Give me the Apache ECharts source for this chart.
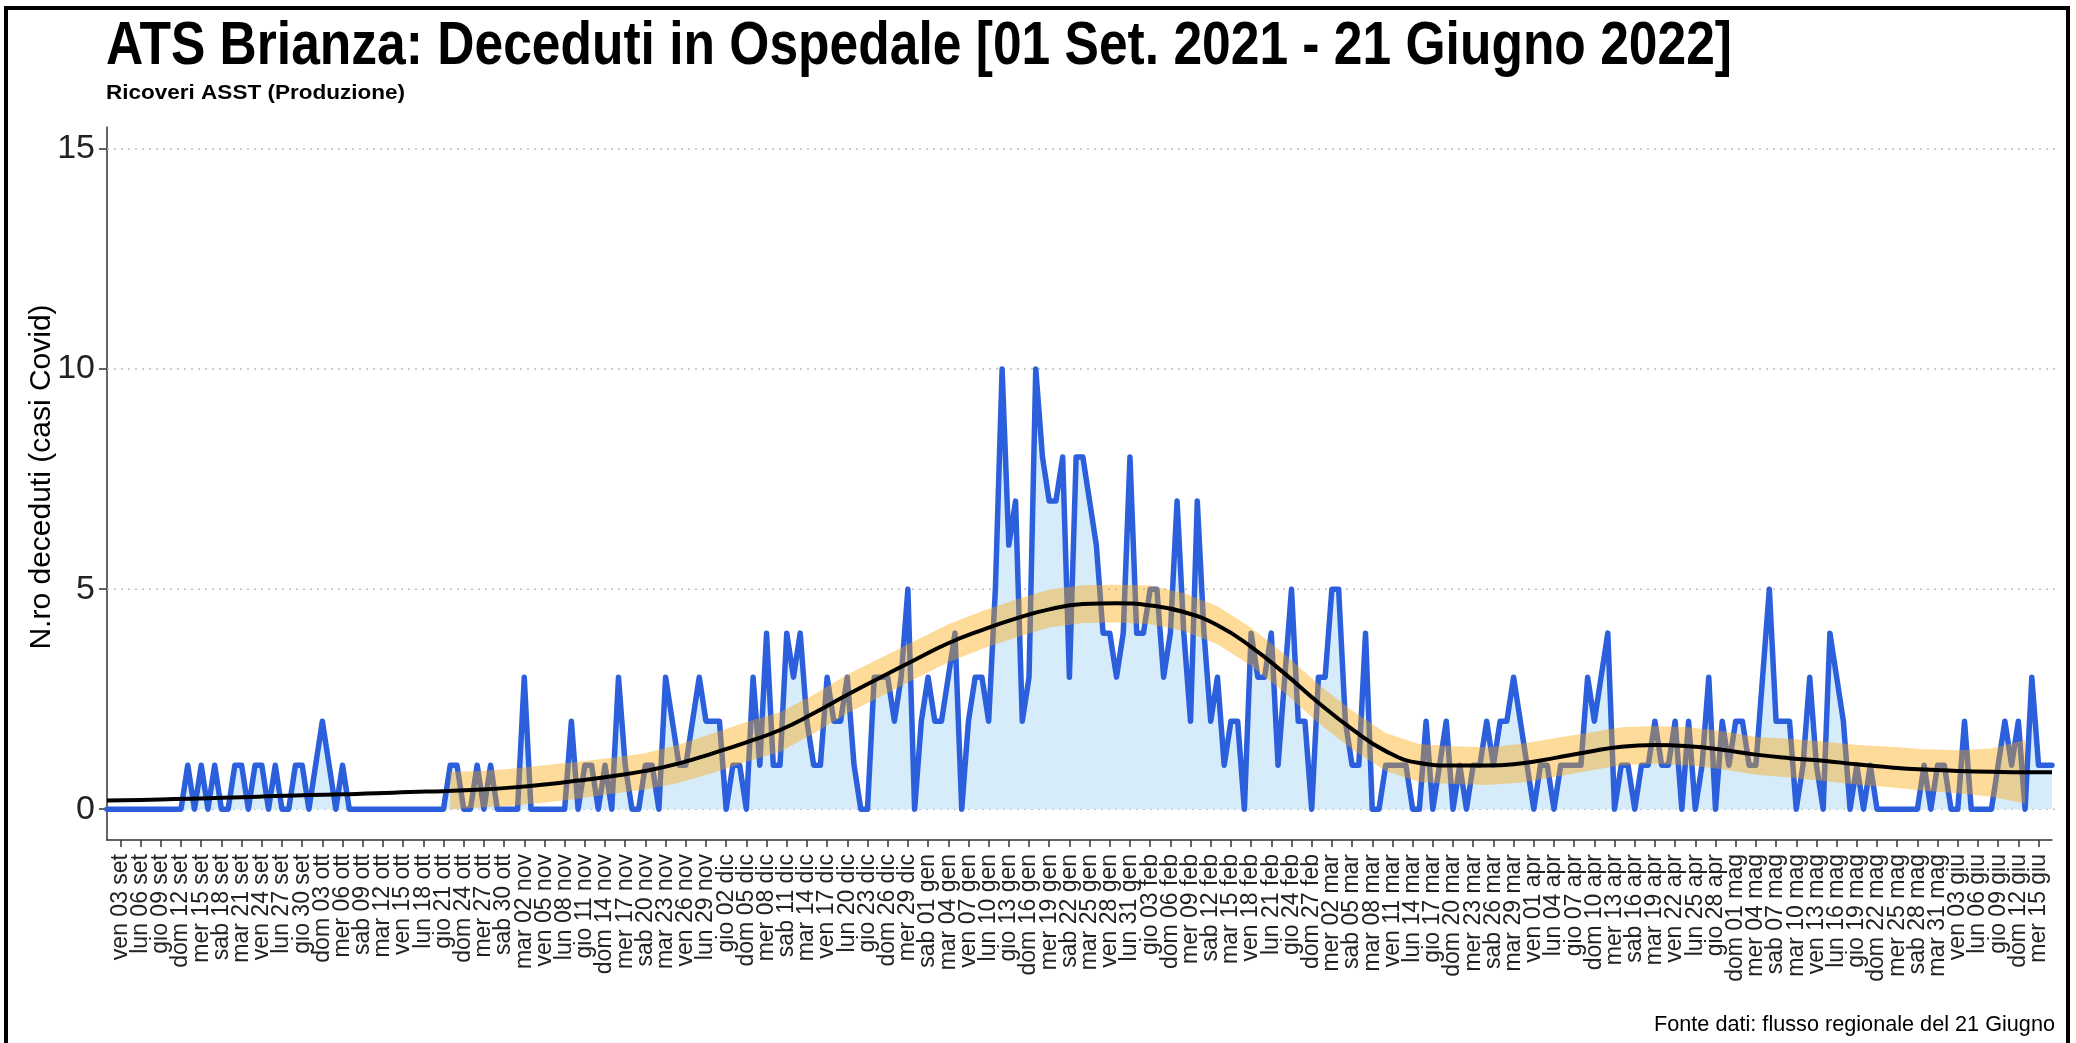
<!DOCTYPE html>
<html>
<head>
<meta charset="utf-8">
<script src="https://cdn.jsdelivr.net/npm/echarts@6/dist/echarts.min.js"></script>
<style>
html, body { margin: 0; padding: 0; background: #fff; }
#chart { width: 2076px; height: 1043px; }
</style>
</head>
<body>
<div id="chart"></div>
<script>
// daily deaths, 01 Sep 2021 .. 17 Jun 2022 (one value per day)
const firstDay = [2021, 8, 1];
const weekdayNames = ["dom", "lun", "mar", "mer", "gio", "ven", "sab"];
const monthNames = ["gen", "feb", "mar", "apr", "mag", "giu", "lug", "ago", "set", "ott", "nov", "dic"];

const deceduti = [
    0, 0, 0, 0, 0, 0, 0, 0, 0, 0,
    0, 0, 1, 0, 1, 0, 1, 0, 0, 1,
    1, 0, 1, 1, 0, 1, 0, 0, 1, 1,
    0, 1, 2, 1, 0, 1, 0, 0, 0, 0,
    0, 0, 0, 0, 0, 0, 0, 0, 0, 0,
    0, 1, 1, 0, 0, 1, 0, 1, 0, 0,
    0, 0, 3, 0, 0, 0, 0, 0, 0, 2,
    0, 1, 1, 0, 1, 0, 3, 1, 0, 0,
    1, 1, 0, 3, 2, 1, 1, 2, 3, 2,
    2, 2, 0, 1, 1, 0, 3, 1, 4, 1,
    1, 4, 3, 4, 2, 1, 1, 3, 2, 2,
    3, 1, 0, 0, 3, 3, 3, 2, 3, 5,
    0, 2, 3, 2, 2, 3, 4, 0, 2, 3,
    3, 2, 5, 10, 6, 7, 2, 3, 10, 8,
    7, 7, 8, 3, 8, 8, 7, 6, 4, 4,
    3, 4, 8, 4, 4, 5, 5, 3, 4, 7,
    4, 2, 7, 4, 2, 3, 1, 2, 2, 0,
    4, 3, 3, 4, 1, 3, 5, 2, 2, 0,
    3, 3, 5, 5, 2, 1, 1, 4, 0, 0,
    1, 1, 1, 1, 0, 0, 2, 0, 1, 2,
    0, 1, 0, 1, 1, 2, 1, 2, 2, 3,
    2, 1, 0, 1, 1, 0, 1, 1, 1, 1,
    3, 2, 3, 4, 0, 1, 1, 0, 1, 1,
    2, 1, 1, 2, 0, 2, 0, 1, 3, 0,
    2, 1, 2, 2, 1, 1, 3, 5, 2, 2,
    2, 0, 1, 3, 1, 0, 4, 3, 2, 0,
    1, 0, 1, 0, 0, 0, 0, 0, 0, 0,
    1, 0, 1, 1, 0, 0, 2, 0, 0, 0,
    0, 1, 2, 1, 2, 0, 3, 1, 1, 1
];

// smoothed trend (black) read at day index
const fitDay = [0, 5, 10, 15, 20, 25, 30, 35, 40, 45, 50, 55, 60, 65, 70, 75, 80, 85, 90, 95,
    100, 105, 110, 115, 120, 125, 130, 135, 140, 145, 150, 155, 160, 165, 170, 175, 180, 185, 190, 195,
    200, 205, 210, 215, 220, 225, 230, 235, 240, 245, 250, 255, 260, 265, 270, 275, 280, 285, 289];
const fitValue = [0.20, 0.21, 0.23, 0.25, 0.27, 0.30, 0.32, 0.34, 0.36, 0.39, 0.41, 0.44, 0.49, 0.56, 0.65, 0.75, 0.87, 1.04, 1.27, 1.52,
    1.80, 2.18, 2.60, 3.00, 3.39, 3.77, 4.07, 4.33, 4.54, 4.66, 4.68, 4.63, 4.48, 4.18, 3.69, 3.08, 2.42, 1.82, 1.32, 1.05,
    0.99, 0.99, 1.04, 1.16, 1.30, 1.42, 1.46, 1.43, 1.35, 1.24, 1.16, 1.10, 1.02, 0.95, 0.90, 0.87, 0.85, 0.84, 0.84];

// confidence band (orange)
const bandDay = [51, 55, 60, 65, 70, 75, 80, 85, 90, 95, 100, 105, 110, 115, 120, 125, 130, 135, 140, 145,
    150, 155, 160, 165, 170, 175, 180, 185, 190, 195, 200, 205, 210, 215, 220, 225, 230, 235, 240, 245,
    250, 255, 260, 265, 270, 275, 280, 285];
const bandLow = [0.00, 0.03, 0.08, 0.15, 0.24, 0.35, 0.45, 0.60, 0.82, 1.08, 1.30, 1.72, 2.18, 2.56, 2.96, 3.34, 3.64, 3.90, 4.13, 4.23,
    4.24, 4.20, 4.05, 3.75, 3.26, 2.64, 1.96, 1.36, 0.87, 0.62, 0.57, 0.55, 0.60, 0.73, 0.87, 1.00, 1.03, 1.00, 0.91, 0.78,
    0.72, 0.64, 0.56, 0.50, 0.42, 0.36, 0.28, 0.13];
const bandHigh = [0.85, 0.86, 0.92, 1.00, 1.08, 1.17, 1.27, 1.47, 1.72, 1.98, 2.20, 2.60, 3.06, 3.44, 3.82, 4.20, 4.50, 4.76, 4.99, 5.09,
    5.10, 5.08, 4.91, 4.61, 4.12, 3.52, 2.84, 2.24, 1.73, 1.48, 1.43, 1.41, 1.48, 1.61, 1.73, 1.86, 1.89, 1.86, 1.77, 1.64,
    1.60, 1.54, 1.46, 1.42, 1.36, 1.34, 1.38, 1.57];

const yTicks = [0, 5, 10, 15];
const yMin = -0.7;
const yMax = 15.5;

const titleText = "ATS Brianza: Deceduti in Ospedale [01 Set. 2021 - 21 Giugno 2022]";
const subtitleText = "Ricoveri ASST (Produzione)";
const yName = "N.ro deceduti (casi Covid)";
const sourceText = "Fonte dati: flusso regionale del 21 Giugno";

function pad(n) {
    return n < 10 ? "0" + n : "" + n;
}
var dayLabels = [];
for (let i = 0; i < deceduti.length; i++) {
    var d = new Date(firstDay[0], firstDay[1], firstDay[2] + i);
    dayLabels.push(weekdayNames[d.getDay()] + " " + pad(d.getDate()) + " " + monthNames[d.getMonth()]);
}
const lastDay = deceduti.length - 1;
function everyThird(index) {
    return index % 3 === 2;
}
// days that get a label under the axis
var labelDays = [];
for (let i = 0; i < dayLabels.length; i++) {
    if (everyThird(i)) labelDays.push(i);
}

// squeeze text horizontally to the width it has in the picture
var measureCtx = document.createElement("canvas").getContext("2d");
function squeeze(text, font, width) {
    measureCtx.font = font;
    return width / measureCtx.measureText(text).width;
}
const fontName = '"Liberation Sans", Arial, sans-serif';
const titleFont = "bold 62px " + fontName;
const subFont = "bold 21px " + fontName;
const sourceFont = "22px " + fontName;
const dayFont = "23px " + fontName;

var chart = echarts.init(document.getElementById("chart"));
chart.setOption({
    animation: false,
    backgroundColor: "#fff",
    grid: { left: 107, right: 24, top: 127, bottom: 203 },
    graphic: [
        {
            type: "rect", shape: { x: 6, y: 8, width: 2062, height: 1060 },
            style: { fill: null, stroke: "#000", lineWidth: 4 }, silent: true
        },
        {
            type: "text", x: 106, y: 47, scaleX: squeeze(titleText, titleFont, 1626),
            style: { text: titleText, font: titleFont, fill: "#000", align: "left", verticalAlign: "middle" }
        },
        {
            type: "text", x: 106, y: 93, scaleX: squeeze(subtitleText, subFont, 299),
            style: { text: subtitleText, font: subFont, fill: "#000", align: "left", verticalAlign: "middle" }
        },
        {
            type: "text", x: 42, y: 477, rotation: Math.PI / 2,
            style: { text: yName, font: "30px " + fontName, fill: "#000", align: "center", verticalAlign: "middle" }
        },
        {
            type: "text", x: 2055, y: 1025, scaleX: squeeze(sourceText, sourceFont, 401),
            style: { text: sourceText, font: sourceFont, fill: "#000", align: "right", verticalAlign: "middle" }
        }
    ],
    xAxis: {
        type: "category",
        data: dayLabels,
        boundaryGap: false,
        axisLine: { onZero: false, lineStyle: { color: "#333", width: 1.5 } },
        axisTick: { interval: everyThird, length: 7, lineStyle: { color: "#333", width: 1.5 } },
        axisLabel: { show: false },
        splitLine: { show: false }
    },
    yAxis: {
        type: "value",
        min: yMin,
        max: yMax,
        axisLine: { show: true, lineStyle: { color: "#333", width: 1.5 } },
        axisTick: { show: true, customValues: yTicks, length: 8, lineStyle: { color: "#333", width: 1.5 } },
        axisLabel: { customValues: yTicks, fontSize: 34, color: "#222", fontFamily: fontName, margin: 12 },
        splitLine: { show: false }
    },
    series: [
        {
            // dotted grid lines
            type: "custom",
            z: 1,
            silent: true,
            data: yTicks.map(v => [0, v]),
            renderItem: function (params, api) {
                var a = api.coord([0, api.value(1)]);
                var b = api.coord([lastDay, api.value(1)]);
                return {
                    type: "line",
                    shape: { x1: a[0], y1: a[1], x2: b[0] + 5, y2: b[1] },
                    style: { stroke: "#bdbdbd", lineWidth: 1.5, lineDash: [2, 5] }
                };
            }
        },
        {
            // rotated day labels under the axis, every third day
            type: "custom",
            z: 5,
            silent: true,
            clip: false,
            data: labelDays.map(i => [i, yMin]),
            renderItem: function (params, api) {
                var i = api.value(0);
                var p = api.coord([i, yMin]);
                return {
                    type: "text",
                    x: p[0],
                    y: p[1] + 14,
                    rotation: Math.PI / 2,
                    style: { text: dayLabels[i], font: dayFont, fill: "#222", align: "right", verticalAlign: "middle" }
                };
            }
        },
        {
            type: "line",
            data: deceduti,
            z: 2,
            symbol: "none",
            lineStyle: { color: "#2B5FDC", width: 5.5, join: "round", cap: "round" },
            areaStyle: { color: "#D6ECFB", opacity: 1 }
        },
        {
            type: "custom",
            z: 3,
            silent: true,
            data: bandDay.map((d, i) => [d, bandLow[i], bandHigh[i]]),
            renderItem: function (params, api) {
                if (params.dataIndex !== 0) return null;
                var pts = [];
                for (let i = 0; i < bandDay.length; i++) pts.push(api.coord([bandDay[i], bandHigh[i]]));
                for (let i = bandDay.length - 1; i >= 0; i--) pts.push(api.coord([bandDay[i], bandLow[i]]));
                return {
                    type: "polygon",
                    shape: { points: pts },
                    style: { fill: "rgba(255,165,0,0.4)" }
                };
            }
        },
        {
            type: "line",
            data: fitDay.map((d, i) => [d, fitValue[i]]),
            z: 4,
            symbol: "none",
            smooth: true,
            lineStyle: { color: "#000", width: 4 }
        }
    ]
});
</script>
</body>
</html>
